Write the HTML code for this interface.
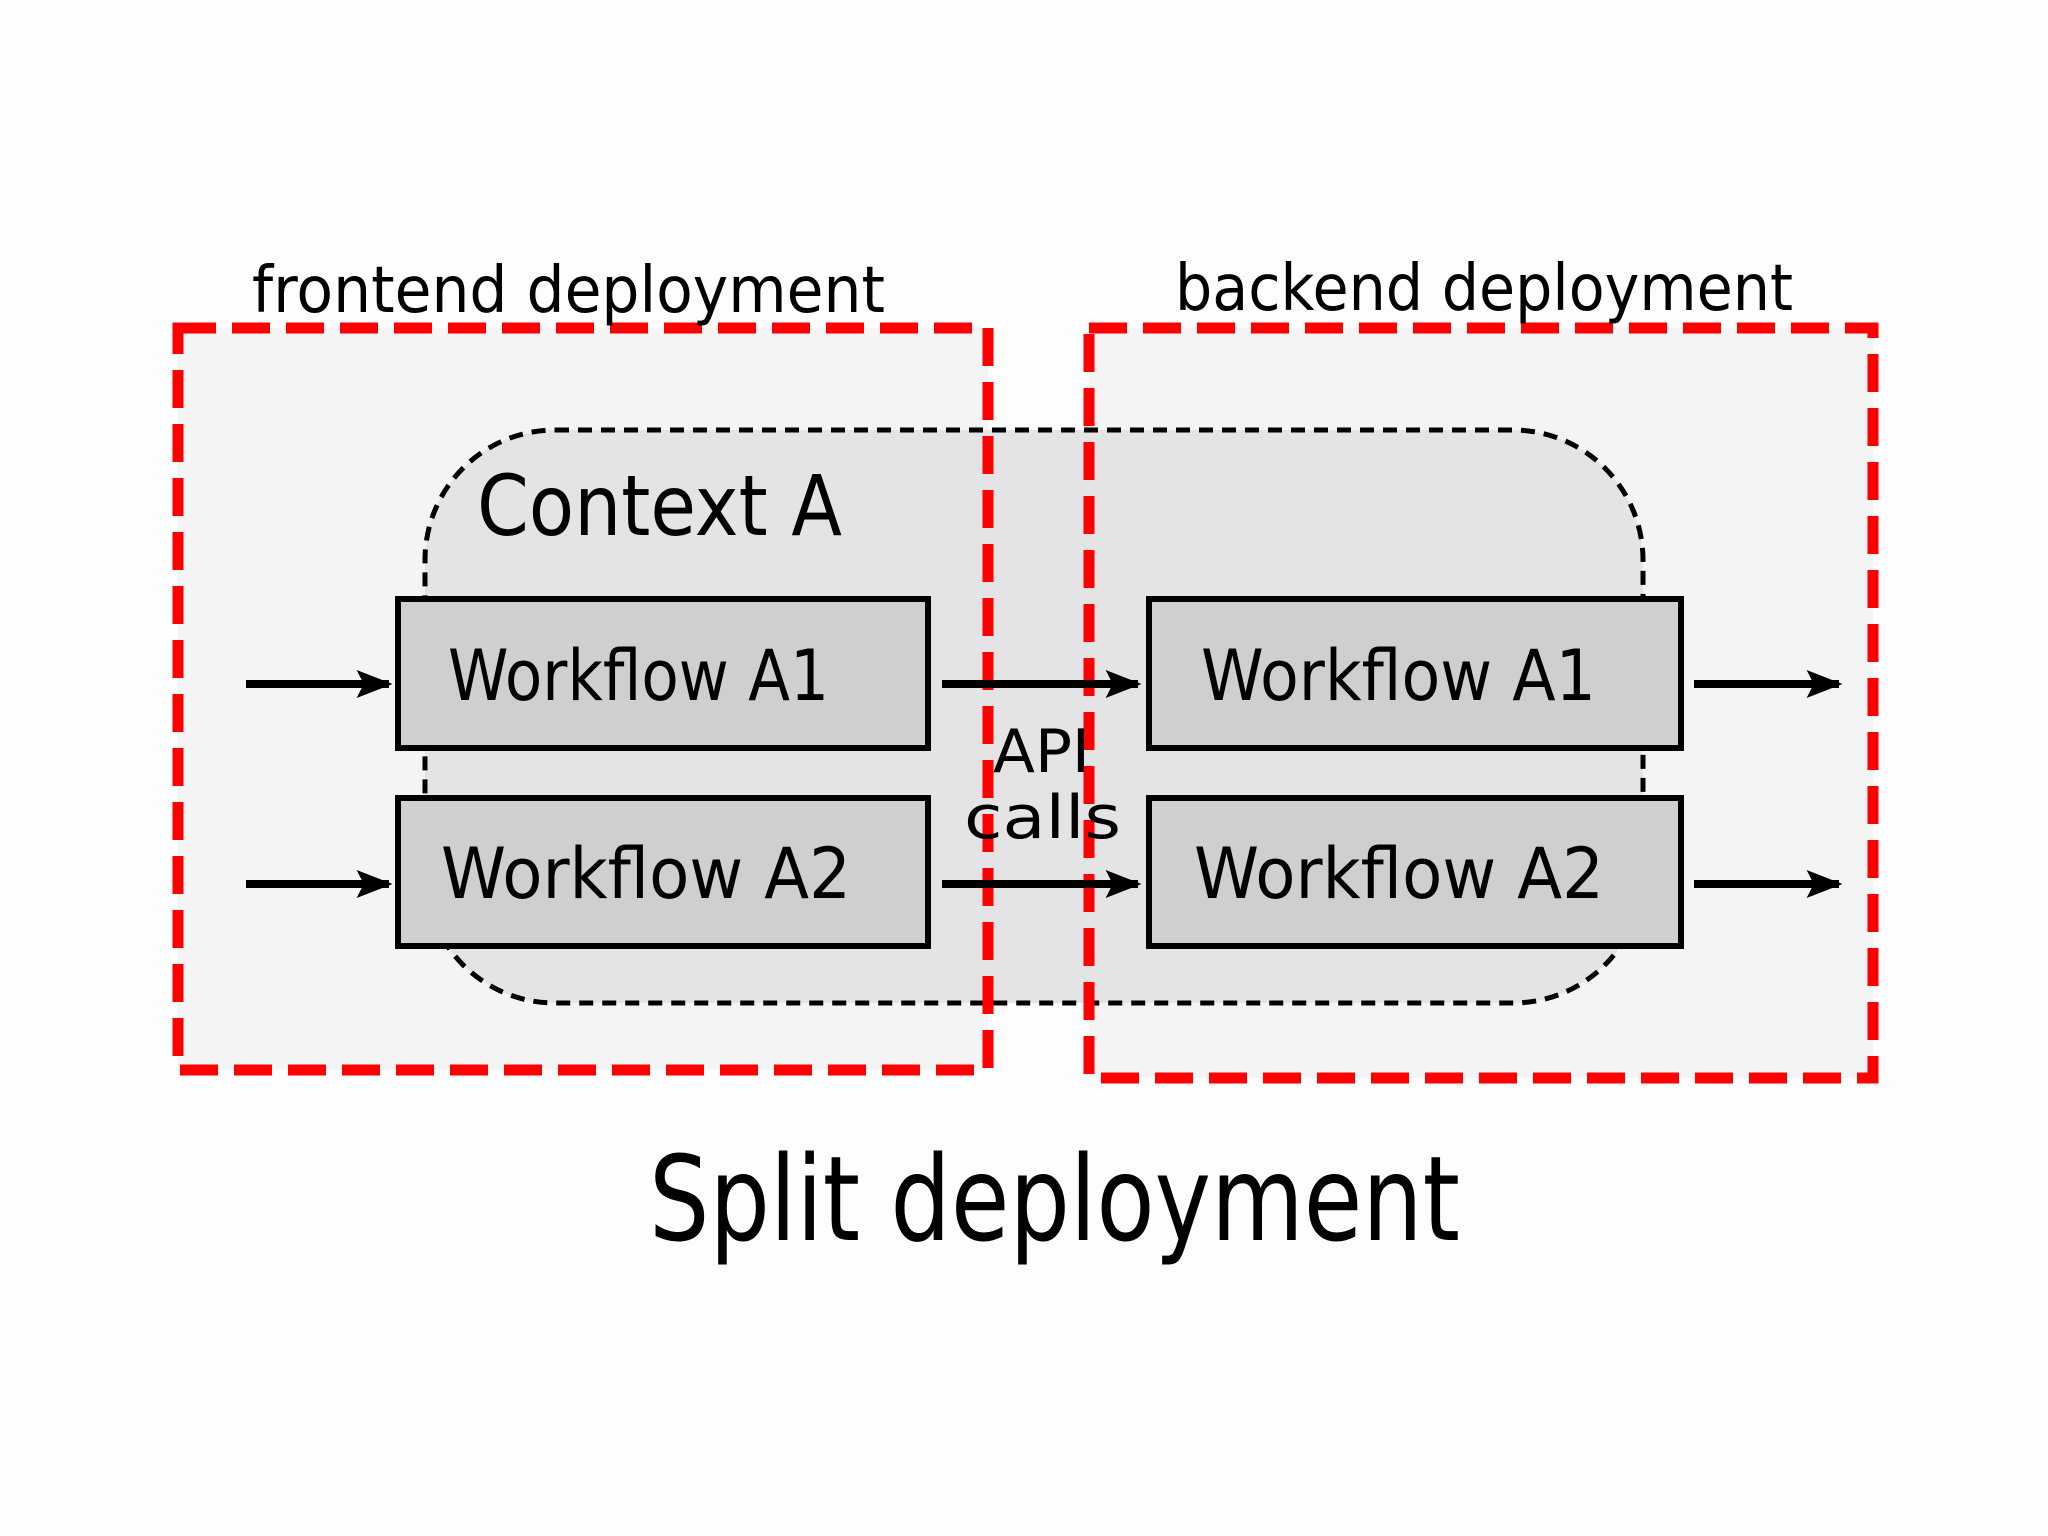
<!DOCTYPE html>
<html><head><meta charset="utf-8"><style>
html,body{margin:0;padding:0;background:#fdfdfd;}
svg{display:block}
text{font-family:"DejaVu Sans","Liberation Sans",sans-serif;fill:#000}
</style></head><body>
<svg width="2048" height="1536" viewBox="0 0 2048 1536" xmlns="http://www.w3.org/2000/svg">
<defs><marker id="a" viewBox="0 0 10 10" refX="9" refY="5" markerWidth="4.5" markerHeight="3.5" orient="auto" preserveAspectRatio="none"><path d="M0,0 L10,5 L0,10 L2,5 Z" fill="#000"/></marker></defs>
<rect width="2048" height="1536" fill="#fdfdfd"/>
<rect x="178" y="328" width="810" height="742" fill="#f4f4f5"/>
<rect x="1089" y="328" width="784" height="750" fill="#f4f4f5"/>
<rect x="425" y="430" width="1218" height="573" rx="130" fill="#e4e4e6" stroke="#000" stroke-width="5" stroke-dasharray="14,9"/>
<g fill="none" stroke-width="11">
<rect x="178" y="328" width="810" height="742" stroke="#000" stroke-dasharray="14,40"/>
<rect x="178" y="328" width="810" height="742" stroke="#f00" stroke-dasharray="38,16"/>
<rect x="1089" y="328" width="784" height="750" stroke="#000" stroke-dasharray="14,40"/>
<rect x="1089" y="328" width="784" height="750" stroke="#f00" stroke-dasharray="38,16"/>
</g>
<g fill="#cfcfd1" stroke="#000" stroke-width="6">
<rect x="398" y="599" width="530" height="149"/>
<rect x="398" y="798" width="530" height="148"/>
<rect x="1149" y="599" width="532" height="149"/>
<rect x="1149" y="798" width="532" height="148"/>
</g>
<g font-size="70" lengthAdjust="spacingAndGlyphs">
<text x="448" y="700" textLength="381" lengthAdjust="spacingAndGlyphs">Workflow A1</text>
<text x="441" y="898" textLength="410" lengthAdjust="spacingAndGlyphs">Workflow A2</text>
<text x="1201" y="700" textLength="395" lengthAdjust="spacingAndGlyphs">Workflow A1</text>
<text x="1194" y="898" textLength="410" lengthAdjust="spacingAndGlyphs">Workflow A2</text>
</g>
<g stroke="#000" stroke-width="8" marker-end="url(#a)">
<line x1="246" y1="684" x2="389" y2="684"/>
<line x1="246" y1="884" x2="389" y2="884"/>
<line x1="942" y1="684" x2="1138" y2="684"/>
<line x1="942" y1="884" x2="1138" y2="884"/>
<line x1="1694" y1="684" x2="1839" y2="684"/>
<line x1="1694" y1="884" x2="1839" y2="884"/>
</g>
<text x="477" y="535" font-size="84" textLength="365" lengthAdjust="spacingAndGlyphs">Context A</text>
<text x="993" y="772" font-size="60" textLength="97" lengthAdjust="spacingAndGlyphs">API</text>
<text x="964" y="838" font-size="60" textLength="157" lengthAdjust="spacingAndGlyphs">calls</text>
<text x="252" y="312" font-size="64" textLength="633" lengthAdjust="spacingAndGlyphs">frontend deployment</text>
<text x="1175" y="310" font-size="64" textLength="618" lengthAdjust="spacingAndGlyphs">backend deployment</text>
<text x="649" y="1240" font-size="118" textLength="811" lengthAdjust="spacingAndGlyphs">Split deployment</text>
</svg>
</body></html>
